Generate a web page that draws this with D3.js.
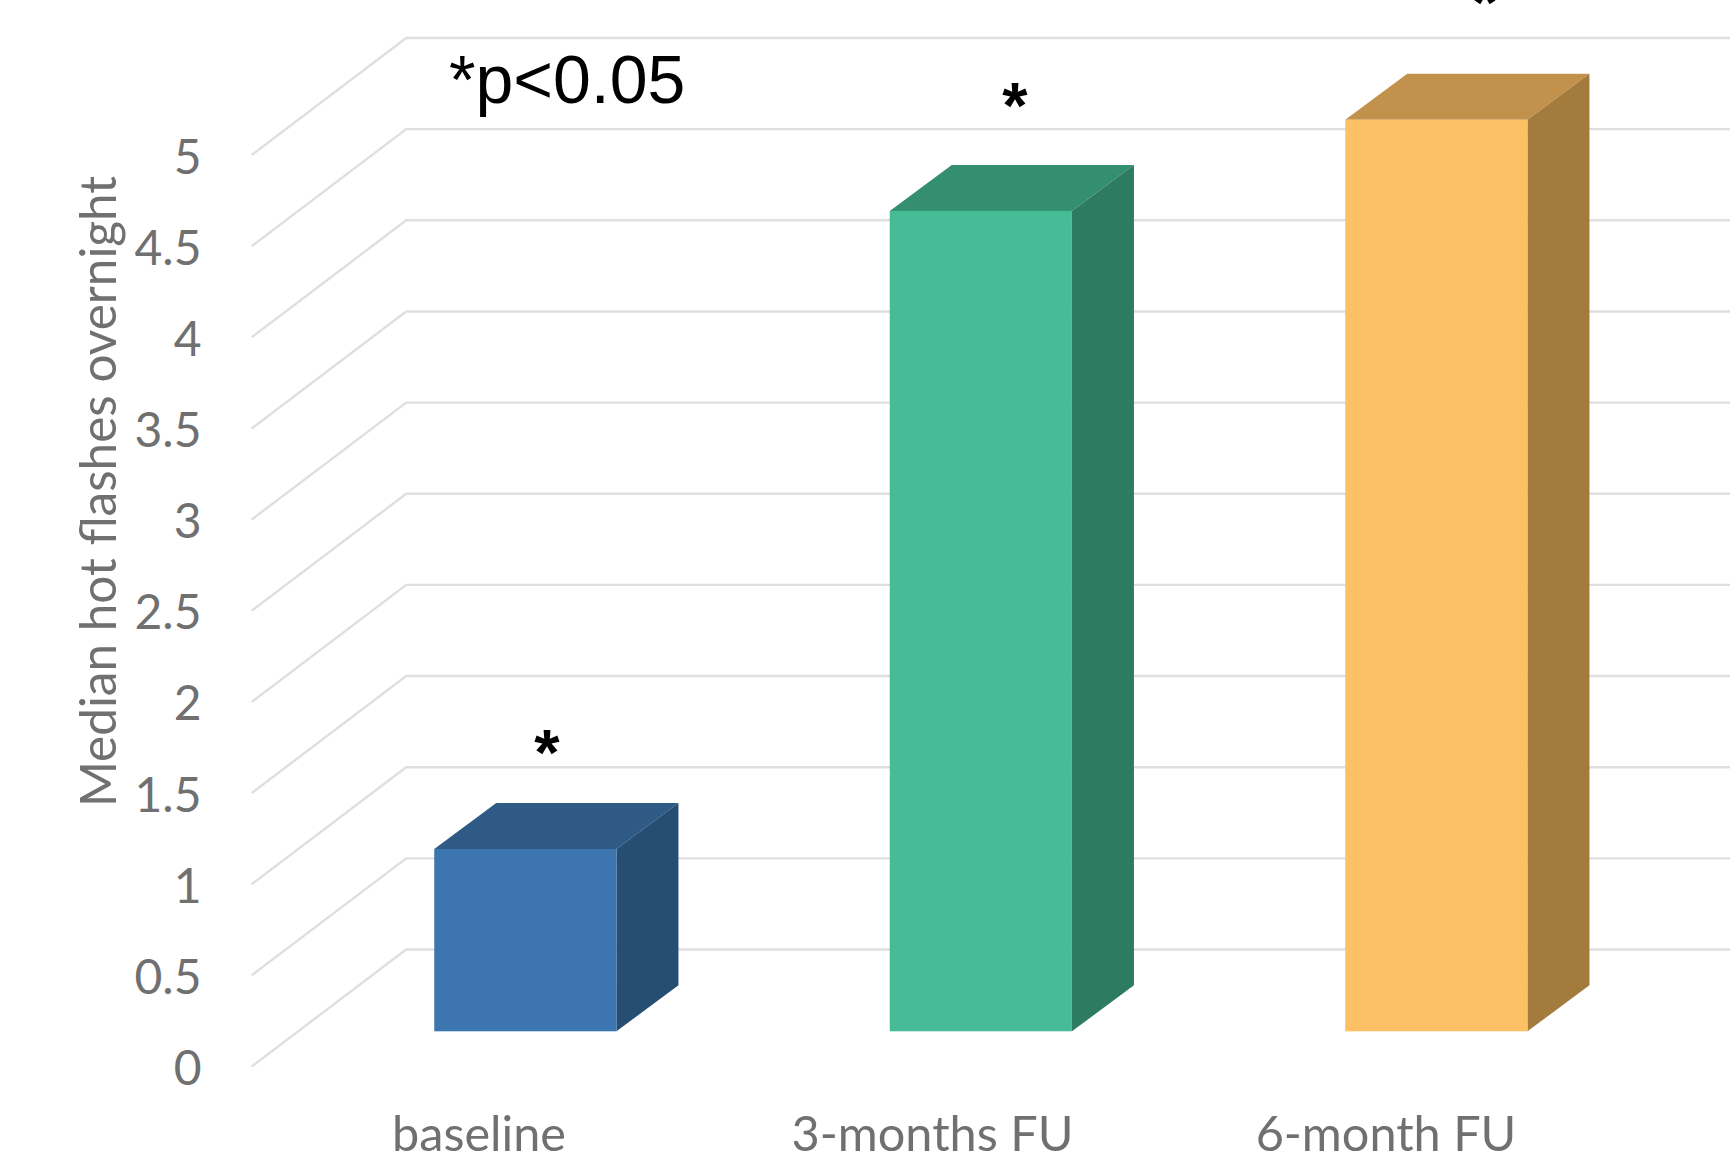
<!DOCTYPE html>
<html>
<head>
<meta charset="utf-8">
<script src="https://cdn.jsdelivr.net/npm/d3@7"></script>
<style>
  html, body { margin: 0; padding: 0; background: #fff; overflow: hidden; }
  svg { display: block; }
</style>
</head>
<body>
<script>
// Chart content
const categories = ["baseline", "3-months FU", "6-month FU"];
const medians = [1, 4.5, 5];
const yTicks = [0, 0.5, 1, 1.5, 2, 2.5, 3, 3.5, 4, 4.5, 5];
const yTickLabels = ["0", "0.5", "1", "1.5", "2", "2.5", "3", "3.5", "4", "4.5", "5"];
const faceColors = ["#3c75af", "#46bc96", "#fec064"];
const sideColors = ["#264d72", "#2d7b60", "#a37b3d"];
const topColors = ["#2e5a85", "#348f71", "#c2924c"];
const yTitle = "Median hot flashes overnight";
const noteText = "*p<0.05";

const width = 1730, height = 1163;

// Projection of the 3D floor: how far the back wall sits from the front edge
const wallDx = 154.5, wallDy = 117;
const barDx = 62, barDy = 46;
const barInsetY = 35.2;
const frontX = 251.7;

const y = d3.scaleLinear().domain([0, 5]).range([1066.5, 155]);
const x = d3.scaleBand().domain(categories).range([297.6, 1664.1]).paddingInner(0.6).paddingOuter(0.3);
const labelX = d3.scalePoint().domain(categories).range([479, 1386]);

const svg = d3.select("body").append("svg").attr("width", width).attr("height", height);

// Gridlines: a slanted run along the side wall, then flat along the back wall
svg.append("g").selectAll("path").data(yTicks).join("path")
  .attr("fill", "none")
  .attr("stroke", "#dfdfdf")
  .attr("stroke-width", 2.4)
  .attr("d", d => {
    const p = d3.path();
    p.moveTo(frontX, y(d));
    p.lineTo(frontX + wallDx, y(d) - wallDy);
    p.lineTo(width, y(d) - wallDy);
    return p.toString();
  });

// Bars: front face, top face and right side
const bars = svg.append("g").selectAll("g").data(categories).join("g");
const corner = (c, i) => ({
  l: x(c), r: x(c) + x.bandwidth(),
  t: y(medians[i]) - barInsetY, b: y(0) - barInsetY
});
bars.append("path")
  .attr("fill", (c, i) => topColors[i])
  .attr("d", (c, i) => {
    const k = corner(c, i);
    return `M${k.l},${k.t}L${k.l + barDx},${k.t - barDy}L${k.r + barDx},${k.t - barDy}L${k.r},${k.t}Z`;
  });
bars.append("path")
  .attr("fill", (c, i) => sideColors[i])
  .attr("d", (c, i) => {
    const k = corner(c, i);
    return `M${k.r},${k.t}L${k.r + barDx},${k.t - barDy}L${k.r + barDx},${k.b - barDy}L${k.r},${k.b}Z`;
  });
bars.append("rect")
  .attr("fill", (c, i) => faceColors[i])
  .attr("x", (c, i) => corner(c, i).l)
  .attr("y", (c, i) => corner(c, i).t)
  .attr("width", x.bandwidth())
  .attr("height", (c, i) => corner(c, i).b - corner(c, i).t);

// Value axis labels
svg.append("g").selectAll("text").data(yTicks).join("text")
  .attr("x", 201.5)
  .attr("y", d => y(d) + 18.5)
  .attr("text-anchor", "end")
  .attr("font-family", "Lato")
  .attr("font-size", 48)
  .attr("fill", "#707070")
  .text((d, i) => yTickLabels[i]);

// Category labels
svg.append("g").selectAll("text").data(categories).join("text")
  .attr("x", c => labelX(c))
  .attr("y", 1150.5)
  .attr("text-anchor", "middle")
  .attr("font-family", "Lato")
  .attr("font-size", 48.6)
  .attr("fill", "#707070")
  .text(c => c);

// Value axis title
svg.append("text")
  .attr("transform", "translate(115.5,491.5) rotate(-90)")
  .attr("text-anchor", "middle")
  .attr("font-family", "Lato")
  .attr("font-size", 49.5)
  .attr("fill", "#707070")
  .text(yTitle);

// Significance annotations
svg.append("text")
  .attr("x", 449).attr("y", 103)
  .attr("font-family", "Liberation Sans")
  .attr("font-size", 68)
  .attr("fill", "#000")
  .text(noteText);

const starX = [547, 1015, 1485];
const starY = [775, 128, 25];
svg.append("g").selectAll("text").data(starX).join("text")
  .attr("x", d => d)
  .attr("y", (d, i) => starY[i])
  .attr("text-anchor", "middle")
  .attr("font-family", "Liberation Sans")
  .attr("font-weight", "bold")
  .attr("font-size", 65)
  .attr("fill", "#000")
  .text("*");
</script>
</body>
</html>
